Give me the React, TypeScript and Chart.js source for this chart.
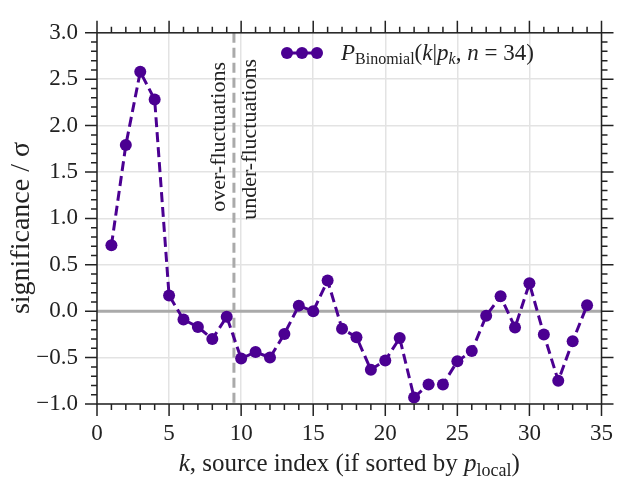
import React, { useEffect, useRef } from 'react';
import { Chart, registerables } from 'chart.js';

Chart.register(...registerables);

// ---- data ----
const kValues = [
  1, 2, 3, 4, 5, 6, 7, 8, 9, 10, 11, 12, 13, 14, 15, 16, 17,
  18, 19, 20, 21, 22, 23, 24, 25, 26, 27, 28, 29, 30, 31, 32, 33, 34,
];
const significance = [
  0.71, 1.79, 2.58, 2.28, 0.17, -0.09, -0.17, -0.30, -0.06, -0.51, -0.44, -0.50, -0.245, 0.06, 0.0, 0.33, -0.19,
  -0.28, -0.63, -0.53, -0.29, -0.93, -0.79, -0.79, -0.54, -0.43, -0.05, 0.16, -0.175, 0.30, -0.25, -0.75, -0.325, 0.063,
];
const xTickValues = [0, 5, 10, 15, 20, 25, 30, 35];
const yTickValues = [-1.0, -0.5, 0.0, 0.5, 1.0, 1.5, 2.0, 2.5, 3.0];
const boundaryK = 9.5;
const leftNote = 'over-fluctuations';
const rightNote = 'under-fluctuations';
const yTitle = 'significance / σ';

const PURPLE = '#4B0092';
const INK = '#222222';
const SERIF = "'Liberation Serif', 'Times New Roman', serif";

type Run = { t: string; it?: boolean; size: number; dy?: number };

function drawRuns(ctx: CanvasRenderingContext2D, runs: Run[], x: number, y: number, align: 'left' | 'center') {
  ctx.save();
  ctx.textBaseline = 'alphabetic';
  ctx.textAlign = 'left';
  let total = 0;
  for (const r of runs) {
    ctx.font = `${r.it ? 'italic ' : ''}${r.size}px ${SERIF}`;
    total += ctx.measureText(r.t).width;
  }
  let cx = align === 'center' ? x - total / 2 : x;
  for (const r of runs) {
    ctx.font = `${r.it ? 'italic ' : ''}${r.size}px ${SERIF}`;
    ctx.fillText(r.t, cx, y + (r.dy || 0));
    cx += ctx.measureText(r.t).width;
  }
  ctx.restore();
}

const decorPlugin = {
  id: 'decor',
  beforeDatasetsDraw(chart: any) {
    const { ctx, chartArea: a, scales } = chart;
    const xs = scales.x;
    const ys = scales.y;
    ctx.save();
    ctx.beginPath();
    ctx.rect(a.left, a.top, a.right - a.left, a.bottom - a.top);
    ctx.clip();
    // zero line
    ctx.strokeStyle = '#aaaaaa';
    ctx.lineWidth = 3;
    const y0 = ys.getPixelForValue(0);
    ctx.beginPath();
    ctx.moveTo(a.left, y0);
    ctx.lineTo(a.right, y0);
    ctx.stroke();
    // boundary
    const xb = xs.getPixelForValue(boundaryK);
    ctx.setLineDash([10, 5]);
    ctx.beginPath();
    ctx.moveTo(xb, a.top);
    ctx.lineTo(xb, a.bottom);
    ctx.stroke();
    ctx.setLineDash([]);
    ctx.restore();

    // rotated notes
    ctx.save();
    ctx.fillStyle = INK;
    ctx.font = `22px ${SERIF}`;
    ctx.textAlign = 'right';
    ctx.textBaseline = 'middle';
    ctx.save();
    ctx.translate(xb - 15, 62);
    ctx.rotate(-Math.PI / 2);
    ctx.fillText(leftNote, 0, 0);
    ctx.restore();
    ctx.save();
    ctx.translate(xb + 16, 59);
    ctx.rotate(-Math.PI / 2);
    ctx.fillText(rightNote, 0, 0);
    ctx.restore();
    ctx.restore();
  },
  afterDraw(chart: any) {
    const { ctx, chartArea: a, scales } = chart;
    const xs = scales.x;
    const ys = scales.y;
    ctx.save();
    ctx.strokeStyle = INK;
    ctx.lineWidth = 1.5;
    ctx.strokeRect(a.left, a.top, a.right - a.left, a.bottom - a.top);
    // ticks
    const major = 12;
    const minor = 6;
    ctx.beginPath();
    for (let i = 0; i <= 35; i++) {
      const px = xs.getPixelForValue(i);
      const len = i % 5 === 0 ? major : minor;
      ctx.moveTo(px, a.bottom);
      ctx.lineTo(px, a.bottom + len);
      ctx.moveTo(px, a.top);
      ctx.lineTo(px, a.top - len);
    }
    for (let j = -10; j <= 30; j++) {
      const py = ys.getPixelForValue(j / 10);
      const len = j % 5 === 0 ? major : minor;
      ctx.moveTo(a.left, py);
      ctx.lineTo(a.left - len, py);
      ctx.moveTo(a.right, py);
      ctx.lineTo(a.right + len, py);
    }
    ctx.stroke();
    ctx.restore();

    // legend
    ctx.save();
    const ly = 53;
    ctx.strokeStyle = PURPLE;
    ctx.lineWidth = 3;
    ctx.beginPath();
    ctx.moveTo(287, ly);
    ctx.lineTo(317, ly);
    ctx.stroke();
    ctx.fillStyle = PURPLE;
    for (const mx of [287, 302, 317]) {
      ctx.beginPath();
      ctx.arc(mx, ly, 6, 0, Math.PI * 2);
      ctx.fill();
    }
    ctx.fillStyle = INK;
    drawRuns(ctx, [
      { t: 'P', it: true, size: 23 },
      { t: 'Binomial', size: 16, dy: 4 },
      { t: '(', size: 23 },
      { t: 'k', it: true, size: 23 },
      { t: '|', size: 23 },
      { t: 'p', it: true, size: 23 },
      { t: 'k', it: true, size: 16, dy: 4 },
      { t: ', ', size: 23 },
      { t: 'n', it: true, size: 23 },
      { t: ' = 34)', size: 23 },
    ], 341, 60, 'left');
    ctx.restore();

    // x title
    ctx.save();
    ctx.fillStyle = INK;
    drawRuns(ctx, [
      { t: 'k', it: true, size: 25 },
      { t: ', source index (if sorted by ', size: 25 },
      { t: 'p', it: true, size: 25 },
      { t: 'local', size: 18, dy: 5 },
      { t: ')', size: 25 },
    ], (a.left + a.right) / 2, 471, 'center');
    ctx.restore();

    // y title
    ctx.save();
    ctx.fillStyle = INK;
    ctx.font = `28px ${SERIF}`;
    ctx.textAlign = 'center';
    ctx.textBaseline = 'middle';
    ctx.translate(22, 228);
    ctx.rotate(-Math.PI / 2);
    ctx.fillText(yTitle, 0, 0);
    ctx.restore();
  },
};

function fmtY(v: number) {
  const s = Math.abs(v).toFixed(1);
  return v < 0 ? '\u2212' + s : s;
}

export default function App() {
  const ref = useRef<HTMLCanvasElement>(null);
  useEffect(() => {
    document.body.style.margin = '0';
    const chart = new Chart(ref.current!, {
      type: 'scatter',
      data: {
        datasets: [
          {
            data: kValues.map((k, i) => ({ x: k, y: significance[i] })),
            showLine: true,
            borderColor: PURPLE,
            backgroundColor: PURPLE,
            borderWidth: 3,
            borderDash: [10, 5],
            pointRadius: 6,
            pointBorderWidth: 0,
            pointBackgroundColor: PURPLE,
          },
        ],
      },
      options: {
        responsive: false,
        animation: false,
        layout: { padding: { top: 23, right: 13, left: 0, bottom: 0 } },
        plugins: { legend: { display: false }, tooltip: { enabled: false } },
        scales: {
          x: {
            type: 'linear',
            min: 0,
            max: 35,
            afterBuildTicks: (s: any) => {
              s.ticks = xTickValues.map((v) => ({ value: v }));
            },
            ticks: {
              padding: 16,
              color: INK,
              font: { family: SERIF, size: 23 },
              maxRotation: 0,
              autoSkip: false,
              callback: (v: any) => String(v),
            },
            grid: { color: '#e3e3e3', lineWidth: 1.5, drawTicks: false },
            border: { display: false },
            afterFit: (s: any) => {
              s.height = 74;
            },
          },
          y: {
            type: 'linear',
            min: -1,
            max: 3,
            afterBuildTicks: (s: any) => {
              s.ticks = yTickValues.map((v) => ({ value: v }));
            },
            ticks: {
              padding: 19,
              color: INK,
              font: { family: SERIF, size: 23 },
              autoSkip: false,
              callback: (v: any) => fmtY(Number(v)),
            },
            grid: { color: '#e3e3e3', lineWidth: 1.5, drawTicks: false },
            border: { display: false },
            afterFit: (s: any) => {
              s.width = 97;
            },
          },
        },
      },
      plugins: [decorPlugin],
    } as any);
    return () => chart.destroy();
  }, []);
  return <canvas ref={ref} width={629} height={478} style={{ display: 'block' }} />;
}
